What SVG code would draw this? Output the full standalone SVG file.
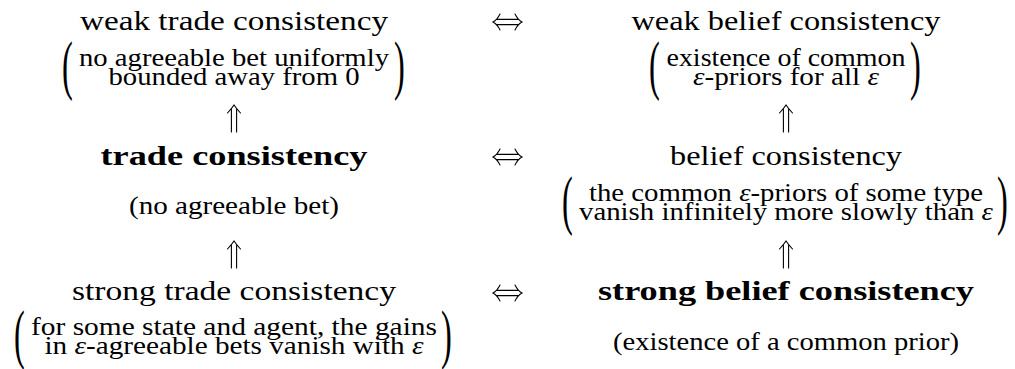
<svg xmlns="http://www.w3.org/2000/svg" width="1015" height="369" viewBox="0 0 1015 369" font-family="Liberation Serif, Times New Roman, serif">
<style>
text{fill:#000}
.n{font-size:28px}
.b{font-size:28px;font-weight:bold}
.s{font-size:25px}
.p{font-size:24px}
.e{font-style:italic}
.arr{fill:none;stroke:#000;stroke-width:1.1;stroke-linecap:round}
</style>
<rect width="1015" height="369" fill="#fff"/>
<g id="weak-trade">
<text class="n" x="80" y="30" textLength="308" lengthAdjust="spacingAndGlyphs">weak trade consistency</text>
<text class="p" transform="translate(62,70) scale(1.35,2.75)" y="6">(</text>
<text class="s" x="79" y="66" textLength="310" lengthAdjust="spacingAndGlyphs">no agreeable bet uniformly</text>
<text class="s" x="108.5" y="85" textLength="251" lengthAdjust="spacingAndGlyphs">bounded away from 0</text>
<text class="p" transform="translate(394,70) scale(1.35,2.75)" y="6">)</text>
</g>
<g id="weak-belief">
<text class="n" x="631.5" y="30" textLength="309" lengthAdjust="spacingAndGlyphs">weak belief consistency</text>
<text class="p" transform="translate(649,70) scale(1.35,2.75)" y="6">(</text>
<text class="s" x="666.5" y="66" textLength="239" lengthAdjust="spacingAndGlyphs">existence of common</text>
<text class="s" x="693" y="85" textLength="186" lengthAdjust="spacingAndGlyphs"><tspan class="e">ε</tspan>-priors for all <tspan class="e">ε</tspan></text>
<text class="p" transform="translate(910,70) scale(1.35,2.75)" y="6">)</text>
</g>
<g id="trade">
<text class="b" x="100.5" y="165" textLength="267" lengthAdjust="spacingAndGlyphs">trade consistency</text>
<text class="s" x="129" y="214" textLength="210" lengthAdjust="spacingAndGlyphs">(no agreeable bet)</text>
</g>
<g id="belief">
<text class="n" x="670" y="165" textLength="232" lengthAdjust="spacingAndGlyphs">belief consistency</text>
<text class="p" transform="translate(562,205) scale(1.35,2.75)" y="6">(</text>
<text class="s" x="589" y="201" textLength="394" lengthAdjust="spacingAndGlyphs">the common <tspan class="e">ε</tspan>-priors of some type</text>
<text class="s" x="579" y="220" textLength="414" lengthAdjust="spacingAndGlyphs">vanish infinitely more slowly than <tspan class="e">ε</tspan></text>
<text class="p" transform="translate(997,205) scale(1.35,2.75)" y="6">)</text>
</g>
<g id="strong-trade">
<text class="n" x="72" y="300" textLength="324" lengthAdjust="spacingAndGlyphs">strong trade consistency</text>
<text class="p" transform="translate(14,339) scale(1.35,2.75)" y="6">(</text>
<text class="s" x="31" y="335" textLength="406" lengthAdjust="spacingAndGlyphs">for some state and agent, the gains</text>
<text class="s" x="44.5" y="354" textLength="379" lengthAdjust="spacingAndGlyphs">in <tspan class="e">ε</tspan>-agreeable bets vanish with <tspan class="e">ε</tspan></text>
<text class="p" transform="translate(441,339) scale(1.35,2.75)" y="6">)</text>
</g>
<g id="strong-belief">
<text class="b" x="598" y="300" textLength="376" lengthAdjust="spacingAndGlyphs">strong belief consistency</text>
<text class="s" x="613" y="350" textLength="346" lengthAdjust="spacingAndGlyphs">(existence of a common prior)</text>
</g>
<g id="connectors" class="arr">
<path d="M497,19.4H518M497,24.6H518M500,14Q497,20 493,22Q497,24 500,30M515,14Q518,20 522,22Q518,24 515,30"/>
<path d="M497,154.4H518M497,159.6H518M500,149Q497,155 493,157Q497,159 500,165M515,149Q518,155 522,157Q518,159 515,165"/>
<path d="M497,290.4H518M497,295.6H518M500,285Q497,291 493,293Q497,295 500,301M515,285Q518,291 522,293Q518,295 515,301"/>
<path d="M231.4,109V132M236.6,109V132M227.5,113Q232,108 234,105Q236,108 240.5,113"/>
<path d="M231.4,245V268M236.6,245V268M227.5,249Q232,244 234,241Q236,244 240.5,249"/>
<path d="M783.4,109V132M788.6,109V132M779.5,113Q784,108 786,105Q788,108 792.5,113"/>
<path d="M783.4,245V268M788.6,245V268M779.5,249Q784,244 786,241Q788,244 792.5,249"/>
</g>
</svg>
